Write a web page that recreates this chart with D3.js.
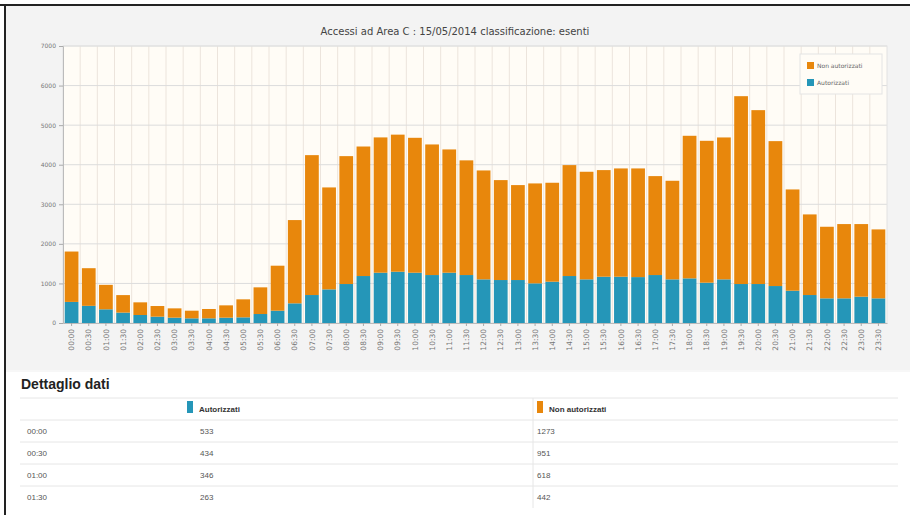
<!DOCTYPE html>
<html>
<head>
<meta charset="utf-8">
<script src="https://cdn.jsdelivr.net/npm/d3@7"></script>
<style>
  body { margin: 0; background: #fff; }
  svg { display: block; }
</style>
</head>
<body>
<svg id="chart" width="910" height="515"></svg>
<script>
const times = ["00:00","00:30","01:00","01:30","02:00","02:30","03:00","03:30","04:00","04:30",
  "05:00","05:30","06:00","06:30","07:00","07:30","08:00","08:30","09:00","09:30",
  "10:00","10:30","11:00","11:30","12:00","12:30","13:00","13:30","14:00","14:30",
  "15:00","15:30","16:00","16:30","17:00","17:30","18:00","18:30","19:00","19:30",
  "20:00","20:30","21:00","21:30","22:00","22:30","23:00","23:30"];
const autorizzati = [533,434,346,263,202,160,135,118,118,135,143,227,311,497,707,850,985,1187,1271,1296,
  1271,1212,1271,1212,1103,1086,1086,1002,1044,1187,1103,1170,1170,1160,1212,1103,1128,1019,1103,985,
  985,934,816,707,623,623,665,623];
const nonAutorizzati = [1273,951,618,442,320,269,235,193,236,311,455,674,1137,2104,3535,2576,3232,3273,3419,3464,
  3409,3300,3115,2898,2752,2525,2399,2525,2500,2803,2719,2694,2736,2746,2500,2491,3603,3585,3586,4747,
  4394,3662,2559,2037,1809,1877,1835,1742];
const yTicks = [0,1000,2000,3000,4000,5000,6000,7000];
const seriesNames = ["Autorizzati", "Non autorizzati"];
const colors = { "Autorizzati": "#2596b8", "Non autorizzati": "#e8870c" };
const title = "Accessi ad Area C : 15/05/2014 classificazione: esenti";
const tableRows = 4;

const svg = d3.select("#chart");

// frame + panel backgrounds
svg.append("rect").attr("x", 6).attr("y", 6).attr("width", 904).attr("height", 509).attr("fill", "#f7f7f7");
svg.append("rect").attr("x", 6).attr("y", 6).attr("width", 904).attr("height", 364).attr("fill", "#f3f3f3");
svg.append("line").attr("x1", 0).attr("x2", 910).attr("y1", 5).attr("y2", 5).attr("stroke", "#222").attr("stroke-width", 2);
svg.append("line").attr("x1", 5).attr("x2", 5).attr("y1", 5).attr("y2", 515).attr("stroke", "#222").attr("stroke-width", 2);

const margin = { top: 46, left: 63, right: 23, bottom: 192 };
const width = 910 - margin.left - margin.right,
      height = 515 - margin.top - margin.bottom;

const g = svg.append("g").attr("transform", `translate(${margin.left},${margin.top})`);

const x = d3.scaleBand().domain(times).range([0, width]).paddingInner(0.2).paddingOuter(0.1);
const y = d3.scaleLinear().domain([0, 7000]).range([height, 0]);

g.append("rect").attr("width", width).attr("height", height).attr("fill", "#fffcf6");

// vertical grid between bars
g.append("g").selectAll("line")
  .data(times.slice(1))
  .join("line")
  .attr("x1", d => x(d) - x.step() * x.paddingInner() / 2)
  .attr("x2", d => x(d) - x.step() * x.paddingInner() / 2)
  .attr("y1", 0).attr("y2", height)
  .attr("stroke", "#ece4dc").attr("stroke-width", 1);

// horizontal grid
g.append("g").selectAll("line")
  .data(yTicks.slice(1))
  .join("line")
  .attr("x1", 0).attr("x2", width)
  .attr("y1", d => y(d)).attr("y2", d => y(d))
  .attr("stroke", "#dcdcdc").attr("stroke-width", 1);

g.append("rect").attr("width", width).attr("height", height)
  .attr("fill", "none").attr("stroke", "#e2e2e2");

const table = times.map((t, i) => ({ time: t, "Autorizzati": autorizzati[i], "Non autorizzati": nonAutorizzati[i] }));
const stacked = d3.stack().keys(seriesNames)(table);

g.append("g").selectAll("g")
  .data(stacked)
  .join("g")
  .attr("fill", d => colors[d.key])
  .selectAll("rect")
  .data(d => d)
  .join("rect")
  .attr("x", d => x(d.data.time))
  .attr("width", x.bandwidth())
  .attr("y", d => y(d[1]))
  .attr("height", d => y(d[0]) - y(d[1]));

// axes
const yAxis = g.append("g").call(d3.axisLeft(y).tickValues(yTicks).tickFormat(d3.format("d")).tickSize(4).tickPadding(3));
yAxis.selectAll("text").style("font-family", "DejaVu Sans").style("font-size", "6px").attr("fill", "#777");
yAxis.selectAll("line").attr("stroke", "#aaa");
yAxis.select(".domain").attr("stroke", "#bbb");

const xAxis = g.append("g").attr("transform", `translate(0,${height})`)
  .call(d3.axisBottom(x).tickSize(3).tickSizeOuter(0));
xAxis.selectAll("text")
  .attr("transform", "rotate(-90)")
  .attr("x", -6).attr("y", 0).attr("dy", "0.35em")
  .style("text-anchor", "end")
  .style("font-family", "DejaVu Sans").style("font-size", "7.5px").attr("fill", "#777");
xAxis.selectAll("line").attr("stroke", "#aaa");
xAxis.select(".domain").attr("stroke", "#bbb");

// title
svg.append("text")
  .attr("x", 455).attr("y", 35)
  .attr("text-anchor", "middle")
  .style("font-family", "DejaVu Sans").style("font-size", "10px").attr("fill", "#444")
  .text(title);

// legend
const legend = svg.append("g").attr("transform", "translate(800,54)");
legend.append("rect").attr("width", 82).attr("height", 40).attr("fill", "#fffcf6").attr("stroke", "#e4e4e4");
["Non autorizzati", "Autorizzati"].forEach((name, i) => {
  const row = legend.append("g").attr("transform", `translate(7,${8 + i * 17})`);
  row.append("rect").attr("width", 7).attr("height", 7).attr("fill", colors[name]);
  row.append("text").attr("x", 10).attr("y", 6)
    .style("font-family", "DejaVu Sans").style("font-size", "6px").attr("fill", "#666")
    .text(name);
});

// data table
const tbl = svg.append("g");
tbl.append("rect").attr("x", 6).attr("y", 372).attr("width", 904).attr("height", 143).attr("fill", "#fff");
tbl.append("text").attr("x", 21).attr("y", 389)
  .style("font-family", "Liberation Sans").style("font-size", "14px").style("font-weight", "bold")
  .attr("fill", "#222").text("Dettaglio dati");

const rowY = [409, 431, 453, 475, 497];
const colX = [22, 187, 537];
rowY.forEach(ry => {
  tbl.append("line").attr("x1", 20).attr("x2", 898).attr("y1", ry - 11).attr("y2", ry - 11)
    .attr("stroke", "#e6e6e6");
});
tbl.append("line").attr("x1", colX[2] - 4).attr("x2", colX[2] - 4).attr("y1", 398).attr("y2", 508).attr("stroke", "#e6e6e6");

seriesNames.forEach((name, j) => {
  tbl.append("rect").attr("x", colX[j + 1]).attr("y", rowY[0] - 8).attr("width", 6).attr("height", 12).attr("fill", colors[name]);
  tbl.append("text").attr("x", colX[j + 1] + 12).attr("y", rowY[0] + 3)
    .style("font-family", "Liberation Sans").style("font-size", "8px").style("font-weight", "bold")
    .attr("fill", "#333").text(name);
});

table.slice(0, tableRows).forEach((d, i) => {
  const ry = rowY[i + 1] + 3;
  [d.time, d["Autorizzati"], d["Non autorizzati"]].forEach((v, j) => {
    tbl.append("text").attr("x", j === 0 ? colX[0] + 5 : colX[j] + (j === 1 ? 13 : 0)).attr("y", ry)
      .style("font-family", "Liberation Sans").style("font-size", "8px")
      .attr("fill", "#555").text(v);
  });
});
</script>
</body>
</html>
